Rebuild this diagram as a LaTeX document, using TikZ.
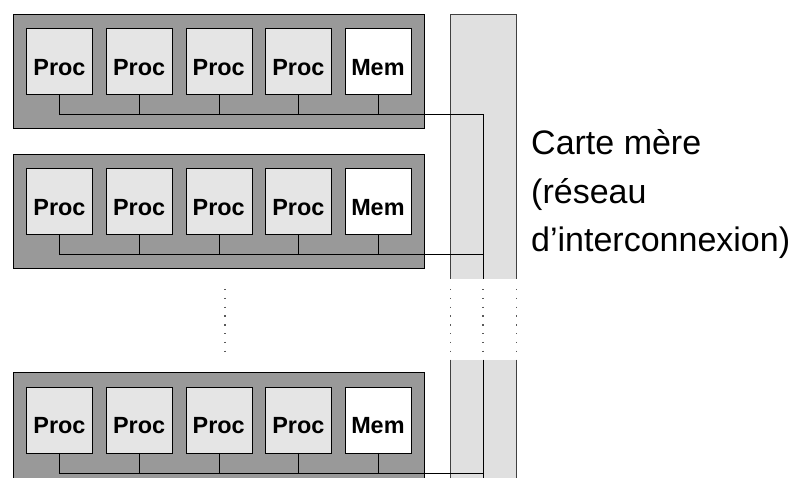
\documentclass[tikz,border=0pt]{standalone}
\usepackage{fontspec}
\setmainfont{Liberation Sans}
\usetikzlibrary{calc}
\definecolor{boardgray}{gray}{0.6}
\definecolor{procgray}{gray}{0.9}
\definecolor{busgray}{gray}{0.88}

\begin{document}
\begin{tikzpicture}[x=1pt,y=-1pt,
    board/.style={draw,fill=boardgray,minimum width=411pt,minimum height=114pt,inner sep=0pt},
    unit/.style={draw,minimum size=66pt,inner sep=0pt,text height=28pt,text depth=0pt,
      font=\bfseries\fontsize{23.4}{28}\selectfont},
    dots/.style={line width=1.5pt,gray!70!black,dash pattern=on 1.3pt off 7.5pt}]
  \clip (0,0) rectangle (799,477);
  % carte mere (reseau)
  \fill[busgray] (450.5,14) rectangle (516.5,278.5);
  \fill[busgray] (450.5,359.5) rectangle (516.5,490);
  \draw[darkgray] (450.5,278.5) -- (450.5,14) -- (516.5,14) -- (516.5,278.5);
  \draw[darkgray] (450.5,359.5) -- (450.5,490) (516.5,359.5) -- (516.5,490);
  \coordinate (gapT) at (483,278.5);
  \coordinate (gapB) at (483,359.5);
  \coordinate (endB) at (483,490);
  % les cartes
  \foreach \b/\top in {1/14,2/154,3/372.7} {
    \node[board] (b\b) at (218.5,\top+56.85) {};
    \foreach \i/\t/\c in {1/Proc/procgray,2/Proc/procgray,3/Proc/procgray,4/Proc/procgray,5/Mem/white}
      \node[unit,fill=\c] (u\b\i) at (59.5+79.6*\i-79.6,\top+47) {\t};
    \coordinate (j\b) at (483,\top+100);
    \draw (u\b1.south) |- (j\b);
    \foreach \i in {2,...,5}
      \draw (u\b\i.south) -- (u\b\i.south |- j\b);
  }
  \draw (j1) -- (gapT);
  \draw (gapB) -- (endB);
  % pointilles
  \foreach \x in {225,450.5,483,516.5}
    \draw[dots] (\x,289) -- (\x,353);
  \node[anchor=base west,align=left,inner sep=0pt,font=\fontsize{34}{48.7}\selectfont] (cm)
    at (531,251.7) {Carte mère\\(réseau\\d’interconnexion)};
\end{tikzpicture}
\end{document}
